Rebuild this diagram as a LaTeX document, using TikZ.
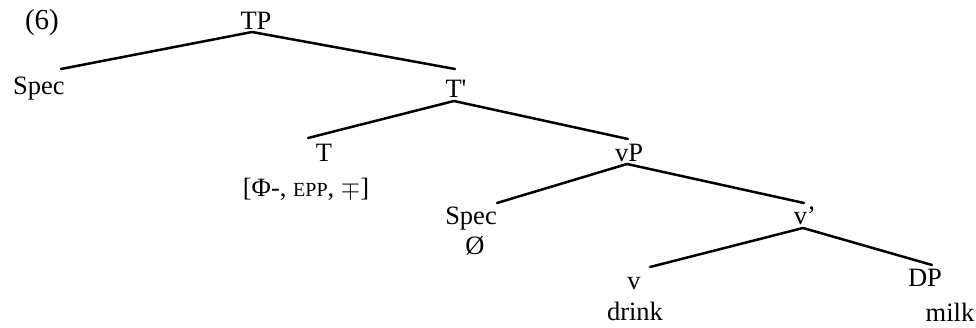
\documentclass[tikz,border=0pt]{standalone}
\usepackage{fontspec}
\setmainfont{Liberation Serif}
\usetikzlibrary{calc}
\begin{document}
\begin{tikzpicture}[x=1pt,y=-1pt,
  lbl/.style={inner sep=0pt,anchor=base,font=\fontsize{26.5}{30}\selectfont},
  branch/.style={line width=2.5pt,line cap=round}]
\useasboundingbox (0,0) rectangle (976,328);
\node[lbl,font=\fontsize{29}{32}\selectfont] (ex) at (42,30) {(6)};
\node[lbl] (TP) at (256,30) {TP};
\node[lbl] (spA) at (39,95) {Spec};
\node[lbl] (Tb) at (456,98) {T\textquotesingle};
\node[lbl] (T) at (324,162) {T};
\node[lbl] (Tf) at (306,197) {[Φ-, {\fontsize{20}{22}\selectfont EPP}, $\mp$]};
\node[lbl] (vP) at (629,162) {vP};
\node[lbl] (spB) at (471,225) {Spec};
\node[lbl] (nul) at (475,255) {Ø};
\node[lbl] (vb) at (805,225) {v'};
\node[lbl] (v) at (634,290) {v};
\node[lbl] (dr) at (635,320) {drink};
\node[lbl] (DP) at (925,287) {DP};
\node[lbl] (mk) at (950,321) {milk};
\draw[branch] ($(TP.base)+(-4,2)$) -- ($(spA.base)+(22,-26)$);
\draw[branch] ($(TP.base)+(-4,2)$) -- ($(Tb.base)+(-1,-29)$);
\draw[branch] ($(Tb.base)+(-2,3)$) -- ($(T.base)+(-16,-24)$);
\draw[branch] ($(Tb.base)+(-2,3)$) -- ($(vP.base)+(-1,-23)$);
\draw[branch] ($(vP.base)+(-2,2)$) -- ($(spB.base)+(26,-22)$);
\draw[branch] ($(vP.base)+(-2,2)$) -- ($(vb.base)+(-1,-22)$);
\draw[branch] ($(vb.base)+(-2,3)$) -- ($(v.base)+(16,-23)$);
\draw[branch] ($(vb.base)+(-2,3)$) -- ($(DP.base)+(7,-22)$);
\end{tikzpicture}
\end{document}
